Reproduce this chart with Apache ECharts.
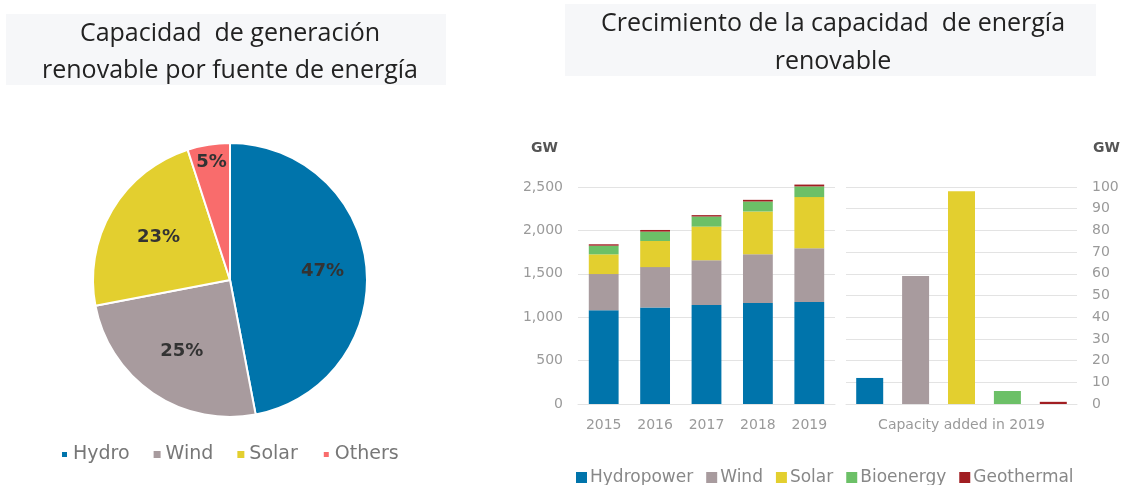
<!DOCTYPE html>
<html>
<head>
<meta charset="utf-8">
<script src="https://cdn.jsdelivr.net/npm/echarts@6/dist/echarts.min.js"></script>
<style>
  html, body { margin: 0; padding: 0; background: #fff; }
  #chart { width: 1129px; height: 485px; }
</style>
</head>
<body>
<div id="chart"></div>
<script>
// pie: share of renewable capacity by source
const pieNames = ["Hydro", "Wind", "Solar", "Others"];
const pieValues = [47, 25, 23, 5];
const pieColors = ["#0074AB", "#A89B9E", "#E3CF2F", "#F96C6C"];

// stacked bars: installed capacity (GW)
const years = ["2015", "2016", "2017", "2018", "2019"];
const sourceNames = ["Hydropower", "Wind", "Solar", "Bioenergy", "Geothermal"];
const hydroGW = [1080, 1111, 1141, 1164, 1176];
const windGW = [417, 466, 514, 560, 618];
const solarGW = [227, 301, 389, 494, 590];
const bioGW = [100, 108, 116, 115, 123];
const geoGW = [16, 19, 16, 19, 21];
const sourceColors = ["#0074AB", "#A89B9E", "#E3CF2F", "#6CC067", "#A11E22"];

// capacity added in 2019 (GW)
const addedLabel = ["Capacity added in 2019"];
const addedGW = [12, 59, 98, 6, 1];

const leftTicks = [0, 500, 1000, 1500, 2000, 2500];
const rightTicks = [0, 10, 20, 30, 40, 50, 60, 70, 80, 90, 100];

const stackSeries = [hydroGW, windGW, solarGW, bioGW, geoGW];

const FONT = "'DejaVu Sans', sans-serif";
const TITLE_FONT = "'Open Sans', 'Noto Sans', sans-serif";

// pie label pull-out per slice (multiples of the default half radius)
const labelPull = [1.3, 1.2, 1.16, 1.66];
const PIE_CENTER = [230, 280];

const chart = echarts.init(document.getElementById("chart"));

const series = [
  {
    type: "pie",
    name: "share",
    center: PIE_CENTER,
    radius: [0, 137],
    startAngle: 90,
    clockwise: true,
    legendHoverLink: false,
    itemStyle: { borderColor: "#fff", borderWidth: 2 },
    label: {
      show: true,
      position: "inside",
      formatter: "{c}%",
      color: "#333",
      fontSize: 18,
      fontWeight: "bold",
      fontFamily: FONT
    },
    labelLayout(params) {
      const r = params.labelRect;
      const cx = r.x + r.width / 2;
      const cy = r.y + r.height / 2;
      const k = labelPull[params.dataIndex] || 1;
      return {
        x: PIE_CENTER[0] + (cx - PIE_CENTER[0]) * k,
        y: PIE_CENTER[1] + (cy - PIE_CENTER[1]) * k,
        align: "center",
        verticalAlign: "middle"
      };
    },
    data: pieNames.map((n, i) => ({ name: n, value: pieValues[i], itemStyle: { color: pieColors[i] } }))
  }
];

stackSeries.forEach((vals, i) => {
  series.push({
    type: "bar",
    name: sourceNames[i],
    stack: "cap",
    xAxisIndex: 0,
    yAxisIndex: 0,
    barWidth: "58%",
    clip: false,
    itemStyle: { color: sourceColors[i] },
    data: vals
  });
});

addedGW.forEach((v, i) => {
  series.push({
    type: "bar",
    name: sourceNames[i],
    xAxisIndex: 1,
    yAxisIndex: 1,
    barWidth: 27,
    barGap: "70%",
    clip: false,
    itemStyle: { color: sourceColors[i] },
    data: [v]
  });
});

const axisLabelStyle = { color: "#9a9a9a", fontSize: 14, fontFamily: FONT };
const gridLine = { show: true, lineStyle: { color: "#e3e3e3", width: 1 } };

chart.setOption({
  animation: false,
  graphic: [
    { type: "rect", z: -1, shape: { x: 6, y: 14, width: 440, height: 71 }, style: { fill: "#f6f7f9" } },
    { type: "rect", z: -1, shape: { x: 565, y: 4, width: 531, height: 72 }, style: { fill: "#f6f7f9" } }
  ],
  title: [
    {
      text: "Capacidad  de generación\nrenovable por fuente de energía",
      left: 225, top: 10, textAlign: "center",
      textStyle: { fontFamily: TITLE_FONT, fontSize: 25, fontWeight: "normal", color: "#222", lineHeight: 37 }
    },
    {
      text: "Crecimiento de la capacidad  de energía\nrenovable",
      left: 828, top: 0, textAlign: "center",
      textStyle: { fontFamily: TITLE_FONT, fontSize: 25, fontWeight: "normal", color: "#222", lineHeight: 38 }
    }
  ],
  legend: [
    {
      data: pieNames,
      left: 55, top: 440,
      icon: "rect",
      itemWidth: 7, itemHeight: 7,
      itemGap: 24,
      textStyle: { color: "#777", fontSize: 19, fontFamily: FONT }
    },
    {
      data: sourceNames,
      left: 571, top: 464,
      icon: "rect",
      itemWidth: 11, itemHeight: 11,
      itemGap: 13,
      textStyle: { color: "#888", fontSize: 17, fontFamily: FONT, padding: [0, 0, 0, -2] }
    }
  ],
  grid: [
    { left: 578, right: 294, top: 187, bottom: 81 },
    { left: 846, right: 52, top: 187, bottom: 81 }
  ],
  xAxis: [
    {
      type: "category", gridIndex: 0, data: years,
      axisLine: { show: true, lineStyle: { color: "#e3e3e3" } },
      axisTick: { show: false },
      axisLabel: Object.assign({ margin: 14 }, axisLabelStyle)
    },
    {
      type: "category", gridIndex: 1, data: addedLabel,
      axisLine: { show: true, lineStyle: { color: "#e3e3e3" } },
      axisTick: { show: false },
      axisLabel: Object.assign({ margin: 14 }, axisLabelStyle)
    }
  ],
  yAxis: [
    {
      type: "value", gridIndex: 0, min: leftTicks[0], max: leftTicks[leftTicks.length - 1], interval: 500,
      name: "GW", nameLocation: "end", nameGap: 32,
      nameTextStyle: { color: "#555", fontSize: 14, fontWeight: "bold", fontFamily: FONT, align: "right", padding: [0, 20, 0, 0] },
      axisLine: { show: false }, axisTick: { show: false },
      splitLine: gridLine,
      axisLabel: Object.assign({ margin: 15, formatter: (v) => v.toLocaleString("en-US") }, axisLabelStyle)
    },
    {
      type: "value", gridIndex: 1, position: "right", min: rightTicks[0], max: rightTicks[rightTicks.length - 1], interval: 10,
      name: "GW", nameLocation: "end", nameGap: 32,
      nameTextStyle: { color: "#555", fontSize: 14, fontWeight: "bold", fontFamily: FONT, align: "left", padding: [0, 0, 0, 16] },
      axisLine: { show: false }, axisTick: { show: false },
      splitLine: gridLine,
      axisLabel: Object.assign({ margin: 15 }, axisLabelStyle)
    }
  ],
  series
});
</script>
</body>
</html>
